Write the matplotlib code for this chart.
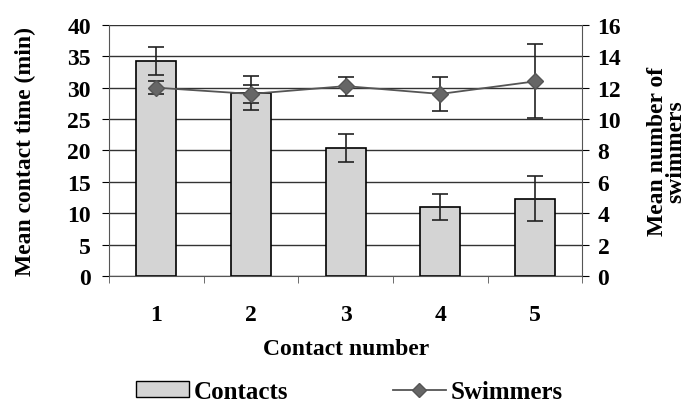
import numpy as np
import matplotlib.pyplot as plt
from matplotlib.patches import Patch
from matplotlib.lines import Line2D

plt.rcParams['font.family'] = 'Liberation Serif'
plt.rcParams['font.weight'] = 'bold'

# Mean contact time per contact number, with error bars
contact_number = [1, 2, 3, 4, 5]
contact_time = [34.2, 29.1, 20.4, 11.0, 12.3]
contact_time_err = [2.2, 2.7, 2.2, 2.1, 3.6]

# Mean number of swimmers per contact
swimmers = [12.0, 11.6, 12.1, 11.6, 12.4]
swimmers_err = [0.4, 0.6, 0.6, 1.1, 2.35]

fig = plt.figure(figsize=(6.99, 4.10), dpi=100)
ax = fig.add_axes([0.156, 0.324, 0.677, 0.613])
ax2 = ax.twinx()

x = np.array(contact_number)

# bars for contact time on the left axis
ax.bar(x, contact_time, width=0.42, color='#d4d4d4', edgecolor='black',
       linewidth=1.2, zorder=2)
ax.errorbar(x, contact_time, yerr=contact_time_err, fmt='none',
            ecolor='#222222', elinewidth=1.2, capsize=6, capthick=1.2, zorder=3)

ax.set_ylim(0, 40)
ax.set_yticks(range(0, 41, 5))
ax.set_xlim(0.5, 5.5)
ax.set_xticks(x)
ax.set_xticks(np.arange(0.5, 5.6, 1), minor=True)
ax.tick_params(axis='x', which='major', length=0, pad=20, labelsize=17)
ax.tick_params(axis='x', which='minor', length=5, direction='out', color='#555555')
ax.tick_params(axis='y', length=5, direction='out', labelsize=17, pad=8)
ax.yaxis.grid(True, color='#333333', linewidth=1.0, zorder=0)
ax.set_axisbelow(True)
for s in ['top', 'right']:
    ax.spines[s].set_visible(False)
ax.spines['left'].set_color('#555555')
ax.spines['bottom'].set_color('#555555')
ax.set_xlabel('Contact number', fontsize=17, fontweight='bold')
ax.xaxis.set_label_coords(0.5, -0.245)
ax.set_ylabel('Mean contact time (min)', fontsize=17, fontweight='bold')
ax.yaxis.set_label_coords(-0.155, 0.5)

# swimmers line on the right axis
ax2.errorbar(x, swimmers, yerr=swimmers_err, fmt='-D', color='#555555',
             markerfacecolor='#666666', markeredgecolor='#555555', markersize=8,
             linewidth=1.3, ecolor='#222222', elinewidth=1.2, capsize=6,
             capthick=1.2, zorder=4)
ax2.set_ylim(0, 16)
ax2.set_yticks(range(0, 17, 2))
ax2.tick_params(axis='y', length=5, direction='out', labelsize=17, pad=6)
for s in ['top', 'left', 'bottom']:
    ax2.spines[s].set_visible(False)
ax2.spines['right'].set_color('#555555')
ax2.set_ylabel('Mean number of\nswimmers', fontsize=17, fontweight='bold',
               linespacing=0.85)
ax2.yaxis.set_label_coords(1.137, 0.5)

handles = [
    Patch(facecolor='#d4d4d4', edgecolor='black', linewidth=1.0),
    Line2D([0], [0], color='#555555', marker='D', markersize=7,
           markerfacecolor='#666666', linewidth=1.3),
]
fig.legend(handles, ['Contacts', 'Swimmers'], loc='lower center',
           bbox_to_anchor=(0.5, -0.04), ncol=2, frameon=False,
           fontsize=18, columnspacing=4.2, handlelength=2.1,
           handleheight=0.6, handletextpad=0.2)

fig.savefig('out.png', dpi=100)
